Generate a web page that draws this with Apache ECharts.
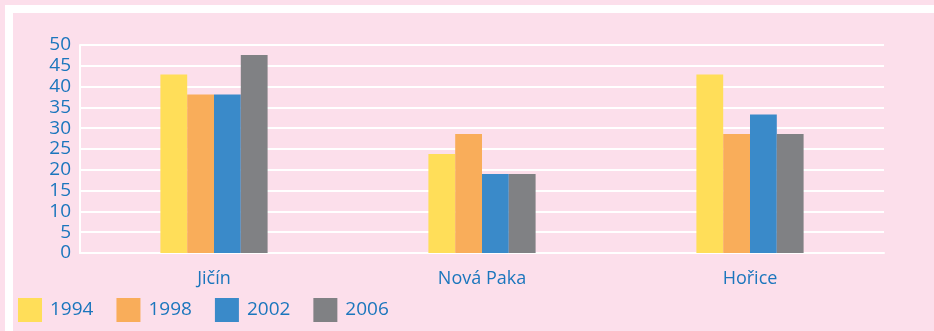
<!DOCTYPE html>
<html>
<head>
<meta charset="utf-8">
<script src="https://cdn.jsdelivr.net/npm/echarts@6/dist/echarts.min.js"></script>
<style>
  html, body { margin: 0; padding: 0; background: #fcdfeb; }
  #chart { width: 934px; height: 331px; }
</style>
</head>
<body>
<div id="chart"></div>
<script>
// Towns and election years
const categories = ['Jičín', 'Nová Paka', 'Hořice'];
const years = ['1994', '1998', '2002', '2006'];

// Share per town (%) for each year
const values1994 = [42.9, 23.8, 42.9];
const values1998 = [38.1, 28.6, 28.6];
const values2002 = [38.1, 19.0, 33.3];
const values2006 = [47.6, 19.0, 28.6];

const seriesValues = [values1994, values1998, values2002, values2006];
const colors = ['#ffde59', '#f9ad5a', '#3a8ac9', '#808184'];
const textBlue = '#1b76bd';
const font = '"Open Sans", "Noto Sans", sans-serif';

const chart = echarts.init(document.getElementById('chart'), null, { renderer: 'canvas' });

chart.setOption({
  backgroundColor: '#fcdfeb',
  animation: false,
  graphic: [
    { type: 'rect', shape: { x: 5, y: 5, width: 929, height: 8 }, style: { fill: '#ffffff' }, silent: true },
    { type: 'rect', shape: { x: 5, y: 5, width: 8, height: 326 }, style: { fill: '#ffffff' }, silent: true }
  ],
  grid: { left: 80, right: 50, top: 45, bottom: 78, containLabel: false },
  legend: {
    data: years,
    left: 18,
    top: 298,
    padding: 0,
    itemWidth: 24,
    itemHeight: 24,
    itemGap: 23,
    icon: 'rect',
    textStyle: { color: textBlue, fontSize: 19, fontFamily: font, padding: [0, 0, 0, 3] }
  },
  xAxis: {
    type: 'category',
    data: categories,
    axisLine: { show: true, lineStyle: { color: '#ffffff', width: 2 } },
    axisTick: { show: false },
    axisLabel: { color: textBlue, fontSize: 18, fontFamily: font, margin: 17 }
  },
  yAxis: {
    type: 'value',
    min: 0,
    max: 50,
    interval: 5,
    axisLine: { show: true, lineStyle: { color: '#ffffff', width: 2 } },
    axisTick: { show: false },
    splitLine: { show: true, lineStyle: { color: '#ffffff', width: 2 } },
    axisLabel: { color: textBlue, fontSize: 19, fontFamily: font, margin: 9 }
  },
  series: years.map((y, i) => ({
    name: y,
    type: 'bar',
    data: seriesValues[i],
    itemStyle: { color: colors[i] },
    barGap: '0%',
    barCategoryGap: '60%'
  }))
});
</script>
</body>
</html>
